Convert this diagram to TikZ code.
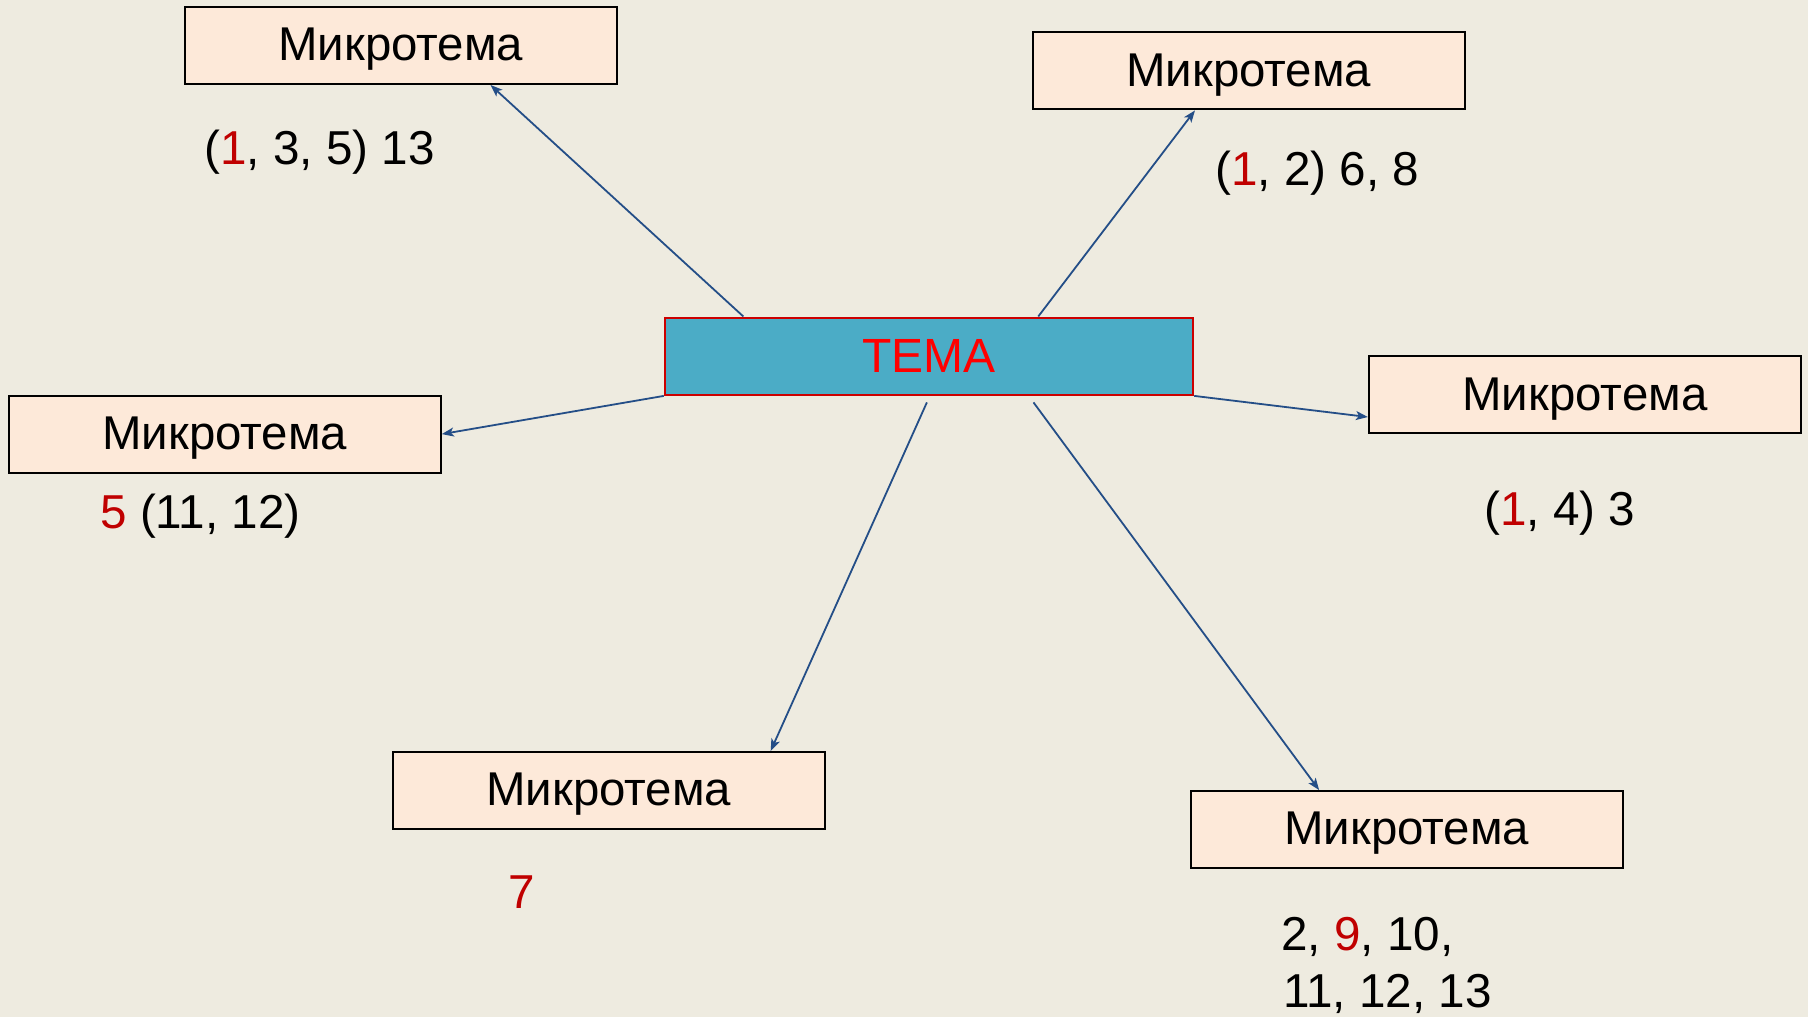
\documentclass[tikz,border=0pt]{standalone}
\usepackage{fontspec}
\setmainfont{Liberation Sans}
\usetikzlibrary{arrows.meta,calc}
\definecolor{bg}{RGB}{238,235,224}
\definecolor{peach}{RGB}{253,233,217}
\definecolor{temafill}{RGB}{75,172,198}
\definecolor{temaborder}{RGB}{204,0,0}
\definecolor{linkblue}{RGB}{36,78,135}
\definecolor{numred}{RGB}{192,0,0}
\tikzset{
  mbox/.style={draw=black, line width=1pt, fill=peach, minimum width=216pt, minimum height=38.5pt, inner sep=0pt,
    text depth=0.1em, font=\fontsize{23.7}{28}\selectfont},
  temabox/.style={draw=temaborder, line width=1.2pt, fill=temafill, minimum width=264pt, minimum height=38.5pt, inner sep=0pt,
    font=\fontsize{24}{29}\selectfont, text=red},
  lbl/.style={anchor=base west, inner sep=0pt, font=\fontsize{23.8}{28}\selectfont},
  link/.style={draw=linkblue, line width=0.9pt, -{Stealth[length=6pt,width=4.5pt,inset=1.5pt]}}
}
\begin{document}
\begin{tikzpicture}[x=0.5pt,y=-0.5pt]
\fill[bg] (0,0) rectangle (1808,1017);
\useasboundingbox (0,0) rectangle (1808,1017);

\node[temabox] (tema) at (929,356.2) {ТЕМА};

\node[mbox] (tl) at (400.7,45.5) {Микротема};
\node[mbox] (tr) at (1248.8,70.9) {Микротема};
\node[mbox] (r)  at (1584.9,394.9) {Микротема};
\node[mbox] (l)  at (224.8,434.1) {Микротема};
\node[mbox] (bl) at (608.8,790.4) {Микротема};
\node[mbox] (br) at (1406.8,829.6) {Микротема};

\node[lbl] (ltl) at (204,164.8) {(\textcolor{numred}{1}, 3, 5) 13};
\node[lbl] (ltr) at (1215,185.6) {(\textcolor{numred}{1}, 2) 6, 8};
\node[lbl] (ll)  at (100,528) {\textcolor{numred}{5} (11, 12)};
\node[lbl] (lr)  at (1484,525.7) {(\textcolor{numred}{1}, 4) 3};
\node[lbl] (lbl) at (508.5,908.5) {\textcolor{numred}{7}};
\node[lbl] (lbra) at (1281,950) {2, \textcolor{numred}{9}, 10,};
\node[lbl] (lbrb) at (1283,1007.7) {11, 12, 13};

\draw[link] ($(tema.north west)!0.15!(tema.north east)$) -- ($(tl.south west)!0.707!(tl.south east)$);
\draw[link] ($(tema.north west)!0.706!(tema.north east)$) -- ($(tr.south west)!0.376!(tr.south east)$);
\draw[link] (tema.south east) -- ($(r.north west)!0.78!(r.south west)$);
\draw[link] (tema.south west) -- (l.east);
\draw[link] ($($(tema.south west)!0.496!(tema.south east)$)+(0,6.5)$) -- ($(bl.north west)!0.873!(bl.north east)$);
\draw[link] ($($(tema.south west)!0.697!(tema.south east)$)+(0,6.5)$) -- ($(br.north west)!0.298!(br.north east)$);
\end{tikzpicture}
\end{document}
